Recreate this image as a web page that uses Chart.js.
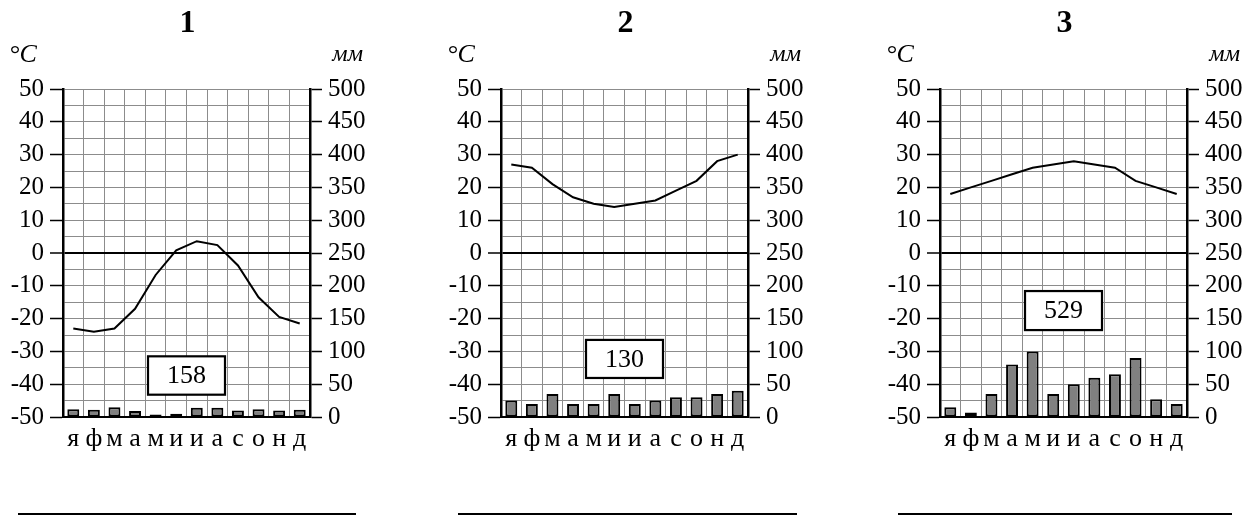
<!DOCTYPE html>
<html>
<head>
<meta charset="utf-8">
<script src="https://cdn.jsdelivr.net/npm/chart.js@4/dist/chart.umd.min.js"></script>
<style>
  html, body { margin: 0; padding: 0; background: #fff; }
  body { width: 1254px; height: 517px; position: relative; overflow: hidden; }
  .box { position: absolute; top: 0; width: 375px; height: 460px; }
  .line { position: absolute; top: 513px; height: 2px; background: #000; }
</style>
</head>
<body>
<div class="box" style="left:0"><canvas id="c1"></canvas></div>
<div class="box" style="left:438px"><canvas id="c2"></canvas></div>
<div class="box" style="left:877px"><canvas id="c3"></canvas></div>
<div class="line" style="left:18px;width:338px"></div>
<div class="line" style="left:458px;width:339px"></div>
<div class="line" style="left:898px;width:334px"></div>
<script>
const months = ["я", "ф", "м", "а", "м", "и", "и", "а", "с", "о", "н", "д"];
const chartTitles = ["1", "2", "3"];

// monthly mean temperature, °C
const temp1 = [-23, -24, -23, -17, -6.7, 0.8, 3.6, 2.4, -3.8, -13.5, -19.5, -21.5];
const temp2 = [27, 26, 21, 17, 15, 14, 15, 16, 19, 22, 28, 30];
const temp3 = [18, 20, 22, 24, 26, 27, 28, 27, 26, 22, 20, 18];

// monthly precipitation, mm
const prec1 = [12, 11, 15, 9, 4, 5, 14, 14, 10, 12, 10, 11];
const prec2 = [25, 20, 35, 20, 20, 35, 20, 25, 30, 30, 35, 40];
const prec3 = [15, 7, 35, 80, 100, 35, 50, 60, 65, 90, 27, 20];

// yearly precipitation written in the box
const totals = [158, 130, 529];

// vertical band (in °C) where each total box sits
const boxBands = [[-31.5, -43.2], [-26.5, -38.1], [-11.6, -23.5]];

const serif = "'Liberation Serif', 'DejaVu Serif', serif";
const gridGray = "#8c8c8c";

const extraLabels = {
  id: "extraLabels",
  afterDraw(chart, args, opts) {
    const { ctx, chartArea, scales } = chart;
    ctx.save();
    ctx.fillStyle = "#000";
    ctx.textBaseline = "alphabetic";

    ctx.font = `italic 26px ${serif}`;
    ctx.textAlign = "left";
    ctx.fillText("°C", chartArea.left - 54, 62);
    ctx.font = `italic 24px ${serif}`;
    ctx.textAlign = "right";
    ctx.fillText("мм", chartArea.right + 53, 61);

    // box with the yearly total
    const x = scales.x;
    const y = scales.y;
    const left = x.getPixelForValue(3.63);
    const right = x.getPixelForValue(7.37);
    const top = y.getPixelForValue(opts.band[0]);
    const bottom = y.getPixelForValue(opts.band[1]);
    ctx.fillStyle = "#fff";
    ctx.fillRect(left, top, right - left, bottom - top);
    ctx.lineWidth = 2.2;
    ctx.strokeStyle = "#000";
    ctx.strokeRect(left, top, right - left, bottom - top);
    ctx.fillStyle = "#000";
    ctx.font = `26px ${serif}`;
    ctx.textAlign = "center";
    ctx.textBaseline = "middle";
    ctx.fillText(String(opts.total), (left + right) / 2, (top + bottom) / 2 + 1);
    ctx.restore();
  },
};

function createChart(selector, title, temps, precs, total, band) {
  const ctx = document.querySelector(selector);
  return new Chart(ctx, {
    type: "bar",
    data: {
      labels: months,
      datasets: [
        {
          type: "line",
          data: temps,
          yAxisID: "y",
          borderColor: "#000",
          borderWidth: 2,
          pointRadius: 0,
          tension: 0,
          order: 0,
        },
        {
          type: "bar",
          data: precs,
          yAxisID: "y2",
          backgroundColor: "#808080",
          borderColor: "#000",
          borderWidth: 2,
          borderSkipped: false,
          barPercentage: 0.58,
          categoryPercentage: 1,
          order: 1,
        },
      ],
    },
    options: {
      responsive: true,
      maintainAspectRatio: false,
      animation: false,
      layout: { padding: 0 },
      plugins: {
        legend: { display: false },
        tooltip: { enabled: false },
        title: {
          display: true,
          text: title,
          color: "#000",
          font: { family: serif, size: 32, weight: "bold", lineHeight: 1.2 },
          padding: { top: 5, bottom: 45.6 },
        },
        extraLabels: { total, band },
      },
      scales: {
        x: {
          offset: true,
          grid: { color: gridGray, lineWidth: 1, offset: true, drawTicks: false },
          border: { color: "#000", width: 2 },
          ticks: {
            color: "#000",
            font: { family: serif, size: 26 },
            padding: 7,
            maxRotation: 0,
            autoSkip: false,
          },
          afterFit: (scale) => { scale.height = 43; },
        },
        y: {
          position: "left",
          min: -50,
          max: 50,
          ticks: {
            stepSize: 5,
            autoSkip: false,
            color: "#000",
            padding: 6,
            font: { family: serif, size: 25 },
            callback: (v) => (v % 10 === 0 ? String(v) : ""),
          },
          grid: {
            color: (c) => (c.tick && c.tick.value === 0 ? "#000" : gridGray),
            lineWidth: (c) => (c.tick && c.tick.value === 0 ? 2 : 1),
            tickLength: 13,
            tickWidth: 1.5,
            tickColor: (c) => (c.tick && c.tick.value % 10 === 0 ? "#000" : "rgba(0,0,0,0)"),
          },
          border: { color: "#000", width: 2.5 },
          afterFit: (scale) => { scale.width = 63; },
        },
        y2: {
          position: "right",
          min: 0,
          max: 500,
          ticks: {
            stepSize: 50,
            autoSkip: false,
            color: "#000",
            padding: 6,
            font: { family: serif, size: 25 },
          },
          grid: {
            drawOnChartArea: false,
            tickLength: 12,
            tickWidth: 1.5,
            tickColor: "#000",
          },
          border: { color: "#000", width: 2.5 },
          afterFit: (scale) => { scale.width = 65; },
        },
      },
    },
    plugins: [extraLabels],
  });
}

createChart("#c1", chartTitles[0], temp1, prec1, totals[0], boxBands[0]);
createChart("#c2", chartTitles[1], temp2, prec2, totals[1], boxBands[1]);
createChart("#c3", chartTitles[2], temp3, prec3, totals[2], boxBands[2]);
</script>
</body>
</html>
